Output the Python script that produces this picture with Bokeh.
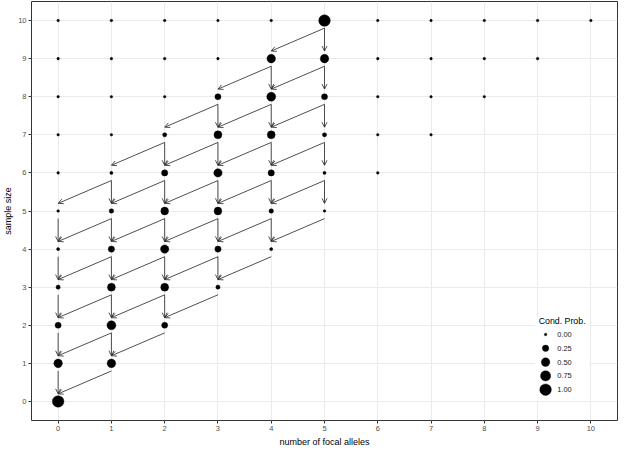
import numpy as np
from bokeh.plotting import figure
from bokeh.models import Range1d, FixedTicker, Arrow, OpenHead, ColumnDataSource
from bokeh.core.properties import value
from bokeh.embed import file_html
from bokeh.resources import INLINE

# ---- data (conditional probability of k focal alleles given sample size n) ----
focal_ticks = list(range(0, 11))
size_ticks = list(range(0, 11))
prob_n0 = [1.00]
prob_n1 = [0.50, 0.50]
prob_n2 = [0.22, 0.56, 0.22]
prob_n3 = [0.08, 0.42, 0.42, 0.08]
prob_n4 = [0.02, 0.24, 0.48, 0.24, 0.02]
prob_n5 = [0.004, 0.10, 0.40, 0.40, 0.10, 0.004]
prob_n6 = [0, 0.02, 0.24, 0.48, 0.24, 0.02, 0]
prob_n7 = [0, 0, 0.08, 0.42, 0.42, 0.08, 0, 0]
prob_n8 = [0, 0, 0, 0.22, 0.56, 0.22, 0, 0, 0]
prob_n9 = [0, 0, 0, 0, 0.50, 0.50, 0, 0, 0, 0]
prob_n10 = [0, 0, 0, 0, 0, 1.00, 0, 0, 0, 0, 0]
cond_probs = [prob_n0, prob_n1, prob_n2, prob_n3, prob_n4, prob_n5,
              prob_n6, prob_n7, prob_n8, prob_n9, prob_n10]
legend_values = [0.00, 0.25, 0.50, 0.75, 1.00]
legend_labels = ["0.00", "0.25", "0.50", "0.75", "1.00"]

FONT = "Liberation Sans"


def dot_size(p):
    return 1.8 * np.sqrt(1 + 35 * np.asarray(p, dtype=float)) + 0.8


# points
xs, ys, ps = [], [], []
for n, row in enumerate(cond_probs):
    for k, pr in enumerate(row):
        xs.append(k)
        ys.append(n)
        ps.append(pr)
pts = ColumnDataSource(dict(x=xs, y=ys, s=dot_size(ps)))

# arrows between reachable states
x0, y0, x1, y1 = [], [], [], []
off = 0.2
for n in range(1, 11):
    for k, pr in enumerate(cond_probs[n]):
        if pr <= 0:
            continue
        if k <= n - 1 and cond_probs[n - 1][k] > 0:
            x0.append(k); y0.append(n - off); x1.append(k); y1.append(n - 1 + off)
        if k >= 1 and cond_probs[n - 1][k - 1] > 0:
            x0.append(k); y0.append(n - off); x1.append(k - 1); y1.append(n - 1 + off)
arr = ColumnDataSource(dict(x0=x0, y0=y0, x1=x1, y1=y1))

p = figure(width=619, height=449, output_backend="svg", toolbar_location=None,
           x_range=Range1d(-0.5, 10.5), y_range=Range1d(-0.5, 10.5),
           min_border_left=0, min_border_right=2, min_border_top=1, min_border_bottom=0)
p.background_fill_color = "white"
p.border_fill_color = "white"
p.outline_line_color = "#333333"
p.outline_line_width = 1

for ax, ticks in ((p.xaxis[0], focal_ticks), (p.yaxis[0], size_ticks)):
    ax.ticker = FixedTicker(ticks=ticks)
    ax.axis_line_color = None
    ax.major_tick_in = 0
    ax.major_tick_out = 3
    ax.major_tick_line_color = "#333333"
    ax.minor_tick_line_color = None
    ax.major_label_text_font = FONT
    ax.major_label_text_font_size = "7.5px"
    ax.major_label_text_color = "#4D4D4D"
    ax.major_label_standoff = 2
    ax.axis_label_text_font = FONT
    ax.axis_label_text_font_size = "9px"
    ax.axis_label_text_font_style = "normal"
    ax.axis_label_text_color = "black"
    ax.axis_label_standoff = 3
p.yaxis[0].axis_label_standoff = 2
p.xaxis.axis_label = "number of focal alleles"
p.yaxis.axis_label = "sample size"

p.xgrid.grid_line_color = "#EBEBEB"
p.ygrid.grid_line_color = "#EBEBEB"
p.xgrid.grid_line_width = 1
p.ygrid.grid_line_width = 1

p.scatter("x", "y", size="s", source=pts, fill_color="black", line_color="black",
          line_width=0.4)

p.add_layout(Arrow(end=OpenHead(size=5, line_color="#222222", line_width=0.8),
                   x_start="x0", y_start="y0", x_end="x1", y_end="y1", source=arr,
                   line_color="#222222", line_width=0.8))

# legend (drawn inside the panel)
lg_left, lg_right, lg_bottom, lg_top = 8.95, 9.98, 0.03, 2.22
p.quad(left=[lg_left], right=[lg_right], bottom=[lg_bottom], top=[lg_top],
       fill_color="white", line_color=None)
p.text(x=[9.02], y=[2.12], text=["Cond. Prob."], text_font=value(FONT),
       text_font_size="8.8px", text_baseline="middle", text_align="left", text_color="black")
ly = [1.757 - 0.362 * i for i in range(len(legend_values))]
p.scatter(x=[9.15] * len(ly), y=ly, size=dot_size(legend_values), fill_color="black",
          line_color="black", line_width=0.4)
p.text(x=[9.37] * len(ly), y=ly, text=legend_labels, text_font=value(FONT),
       text_font_size="7.4px", text_baseline="middle", text_align="left", text_color="#1A1A1A")

open("out.html", "w").write(file_html(p, INLINE))
